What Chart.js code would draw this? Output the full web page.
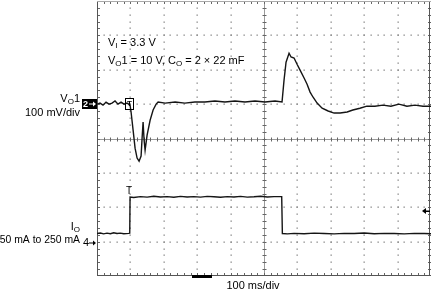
<!DOCTYPE html>
<html lang="en">
<head>
    <meta charset="UTF-8">
    <title>Load Transient</title>
    <script src="https://cdn.jsdelivr.net/npm/chart.js"></script>
    <style>
        body { margin: 0; background: #fff; }
        #wrap { width: 431px; height: 292px; }
    </style>
</head>
<body>
    <div id="wrap"><canvas id="scope"></canvas></div>

    <script>
        // CH2: VO1 ripple, ms vs mV (100 mV/div, ref marker at +1 div)
        const vo1Time = [0, 9, 18, 27, 36, 45, 54, 63, 72, 81, 90, 99,
            102, 108, 114, 120, 126, 132, 135, 138, 141, 144, 150, 159, 168, 177, 183,
            204, 234, 263, 293, 323, 353, 383, 413, 443, 473, 503, 533, 554,
            560, 566, 575, 581, 590, 599, 608, 620, 629, 638, 647, 659, 674, 692, 710,
            728, 749, 766, 787, 808, 832, 856, 880, 904, 928, 952, 976, 1000];
        const vo1mV = [0, 3, -3, 6, 0, 3, 9, 0, 6, 0, 3, -3,
            -23, -75, -128, -157, -166, -151, -99, -52, -105, -134, -90, -47, -17, 0, 6,
            3, 6, 3, 6, 6, 9, 6, 9, 6, 9, 6, 9, 6,
            70, 122, 148, 137, 134, 116, 99, 76, 58, 35, 20, 3, -12, -20, -26,
            -26, -23, -17, -12, -6, -6, -3, -6, 0, -6, -3, -6, -6];

        // CH4: IO, ms vs mA (50 mA to 250 mA step)
        const ioTime = [0, 10, 20, 30, 40, 50, 60, 70, 80, 95, 98,
            99, 110, 130, 150, 170, 190, 210, 230, 250, 270, 290, 310, 330, 350,
            370, 390, 410, 430, 450, 470, 490, 510, 530, 553,
            555, 570, 590, 620, 650, 680, 710, 740, 770, 800, 830, 860, 890,
            920, 950, 980, 1000];
        const iomA = [50, 53, 48, 52, 49, 54, 50, 52, 49, 51, 52,
            250, 247, 252, 249, 254, 250, 252, 248, 253, 250, 252, 249, 253, 251,
            248, 252, 250, 253, 249, 251, 254, 250, 252, 252,
            50, 48, 51, 49, 52, 50, 48, 51, 50, 53, 49, 51, 50,
            48, 51, 50, 49];

        const VO1_OFFSET = 1, VO1_PER_DIV = 100;
        const IO_OFFSET = -3.03, IO_PER_DIV = 188;
        const TRIG_MA = 173;

        const toPts = (t, v, off, per) => t.map((x, i) => ({x: x, y: off + v[i] / per}));

        function subText(ctx, parts, x, y) {
            // parts: [text, isSub]
            ctx.textAlign = 'left';
            parts.forEach(([s, sub]) => {
                ctx.font = sub ? '8px "Liberation Sans", Arial' : '11px "Liberation Sans", Arial';
                ctx.fillText(s, x, sub ? y + 3 : y);
                x += ctx.measureText(s).width;
            });
            return x;
        }
        function subWidth(ctx, parts) {
            let w = 0;
            parts.forEach(([s, sub]) => {
                ctx.font = sub ? '8px "Liberation Sans", Arial' : '11px "Liberation Sans", Arial';
                w += ctx.measureText(s).width;
            });
            return w;
        }

        const graticule = {
            id: 'graticule',
            beforeDatasetsDraw(chart) {
                const ctx = chart.ctx, a = chart.chartArea;
                const xs = chart.scales.x, ys = chart.scales.y;
                ctx.save();
                ctx.fillStyle = '#858585';
                // dotted division lines
                for (let i = 1; i < 10; i++) {
                    if (i === 5) continue;
                    const px = Math.round(xs.getPixelForValue(i * 100));
                    for (let k = 1; k < 40; k++) {
                        const py = Math.round(ys.getPixelForValue(-4 + k * 0.2));
                        ctx.fillRect(px - 0.5, py - 0.5, 1.3, 1.3);
                    }
                }
                for (let j = 1; j < 8; j++) {
                    if (j === 4) continue;
                    const py = Math.round(ys.getPixelForValue(-4 + j));
                    for (let k = 1; k < 50; k++) {
                        const px = Math.round(xs.getPixelForValue(k * 20));
                        ctx.fillRect(px - 0.5, py - 0.5, 1.3, 1.3);
                    }
                }
                // centre crosshair with minor ticks
                const cx = Math.round(xs.getPixelForValue(500)) + 0.5;
                const cy = Math.round(ys.getPixelForValue(0)) + 0.5;
                ctx.strokeStyle = '#9a9a9a';
                ctx.lineWidth = 1;
                ctx.beginPath();
                ctx.moveTo(a.left, cy); ctx.lineTo(a.right, cy);
                ctx.moveTo(cx, a.top); ctx.lineTo(cx, a.bottom);
                ctx.stroke();
                ctx.strokeStyle = '#666';
                ctx.beginPath();
                for (let k = 1; k < 50; k++) {
                    const px = Math.round(xs.getPixelForValue(k * 20)) + 0.5;
                    ctx.moveTo(px, cy - 2); ctx.lineTo(px, cy + 2);
                    ctx.moveTo(px, a.top); ctx.lineTo(px, a.top + 3);
                    ctx.moveTo(px, a.bottom); ctx.lineTo(px, a.bottom - 3);
                }
                for (let k = 1; k < 40; k++) {
                    const py = Math.round(ys.getPixelForValue(-4 + k * 0.2)) + 0.5;
                    ctx.moveTo(cx - 2, py); ctx.lineTo(cx + 2, py);
                    ctx.moveTo(a.left, py); ctx.lineTo(a.left + 3, py);
                    ctx.moveTo(a.right, py); ctx.lineTo(a.right - 3, py);
                }
                ctx.stroke();
                // frame
                ctx.strokeStyle = '#555';
                ctx.beginPath();
                ctx.moveTo(a.left + 0.5, a.top); ctx.lineTo(a.left + 0.5, a.bottom);
                ctx.moveTo(a.left, a.bottom - 0.5); ctx.lineTo(a.right, a.bottom - 0.5);
                ctx.moveTo(a.right - 1.5, a.top); ctx.lineTo(a.right - 1.5, a.bottom);
                ctx.stroke();
                ctx.strokeStyle = '#aaa';
                ctx.beginPath();
                ctx.moveTo(a.left, a.top + 0.5); ctx.lineTo(a.right, a.top + 0.5);
                ctx.stroke();
                ctx.restore();
            },
            afterDatasetsDraw(chart) {
                const ctx = chart.ctx, a = chart.chartArea;
                const xs = chart.scales.x, ys = chart.scales.y;
                ctx.save();
                ctx.fillStyle = '#000';
                ctx.textBaseline = 'middle';

                // annotations inside the screen
                subText(ctx, [['V', false], ['I', true], [' = 3.3 V', false]], 108, 43);
                subText(ctx, [['V', false], ['O', true], ['1 = 10 V, C', false], ['O', true], [' = 2 × 22 mF', false]], 108, 61);

                // channel 2 label + ref marker
                const y2 = Math.round(ys.getPixelForValue(VO1_OFFSET));
                const l1 = [['V', false], ['O', true], ['1', false]];
                subText(ctx, l1, 80 - subWidth(ctx, l1), y2 - 5);
                ctx.font = '11px "Liberation Sans", Arial';
                ctx.textAlign = 'right';
                ctx.fillText('100 mV/div', 80, y2 + 9);
                ctx.fillRect(82, y2 - 5, 15, 10);
                ctx.fillStyle = '#fff';
                ctx.font = 'bold 9px "Liberation Sans", Arial';
                ctx.textAlign = 'left';
                ctx.fillText('2', 83, y2 + 0.5);
                ctx.fillRect(89, y2 - 0.5, 5, 1);
                ctx.beginPath();
                ctx.moveTo(96, y2); ctx.lineTo(93, y2 - 2.5); ctx.lineTo(93, y2 + 2.5); ctx.fill();
                ctx.fillStyle = '#000';

                // channel 4 label + ref marker
                const y4 = Math.round(ys.getPixelForValue(IO_OFFSET));
                const l4 = [['I', false], ['O', true]];
                subText(ctx, l4, 80 - subWidth(ctx, l4), y4 - 16);
                ctx.font = '10.4px "Liberation Sans", Arial';
                ctx.textAlign = 'right';
                ctx.fillText('50 mA to 250 mA', 80, y4 - 3);
                ctx.font = '11px "Liberation Sans", Arial';
                ctx.textAlign = 'left';
                ctx.fillText('4', 83, y4);
                ctx.fillRect(89, y4 - 0.5, 5, 1);
                ctx.beginPath();
                ctx.moveTo(96, y4); ctx.lineTo(93, y4 - 2.5); ctx.lineTo(93, y4 + 2.5); ctx.fill();

                // trigger markers
                const tx = Math.round(xs.getPixelForValue(100));
                ctx.strokeStyle = '#000';
                ctx.lineWidth = 1;
                ctx.strokeRect(tx - 4.5, y2 - 5.5, 8, 11);
                ctx.font = 'bold 8px "Liberation Sans", Arial';
                ctx.textAlign = 'center';
                ctx.fillText('T', tx - 0.5, y2);
                const yh = Math.round(ys.getPixelForValue(IO_OFFSET + 250 / IO_PER_DIV));
                ctx.font = '10px "Liberation Sans", Arial';
                ctx.fillText('T', tx - 1, yh - 6);

                // trigger level arrow on the right
                const yt = Math.round(ys.getPixelForValue(IO_OFFSET + TRIG_MA / IO_PER_DIV));
                ctx.beginPath();
                ctx.moveTo(a.right - 9, yt); ctx.lineTo(a.right - 5, yt - 3); ctx.lineTo(a.right - 5, yt + 3); ctx.fill();
                ctx.fillRect(a.right - 6, yt - 0.5, 5, 1.5);

                // horizontal position marker
                ctx.fillRect(Math.round(xs.getPixelForValue(285)), a.bottom - 1, 20, 3);

                // time base
                ctx.font = '11px "Liberation Sans", Arial';
                ctx.textAlign = 'center';
                ctx.fillText('100 ms/div', 253, 286);
                ctx.restore();
            }
        };

        new Chart(document.getElementById('scope'), {
            type: 'line',
            data: {
                datasets: [
                    { data: toPts(vo1Time, vo1mV, VO1_OFFSET, VO1_PER_DIV) },
                    { data: toPts(ioTime, iomA, IO_OFFSET, IO_PER_DIV) }
                ]
            },
            options: {
                responsive: true,
                maintainAspectRatio: false,
                animation: false,
                layout: { padding: { left: 97, top: 1, right: 0, bottom: 16 } },
                elements: {
                    line: { borderColor: '#151515', borderWidth: 1.4, tension: 0 },
                    point: { radius: 0 }
                },
                scales: {
                    x: { type: 'linear', min: 0, max: 1000, display: false },
                    y: { min: -4, max: 4, display: false }
                },
                plugins: {
                    legend: { display: false },
                    tooltip: { enabled: false }
                }
            },
            plugins: [graticule]
        });
    </script>
</body>
</html>
